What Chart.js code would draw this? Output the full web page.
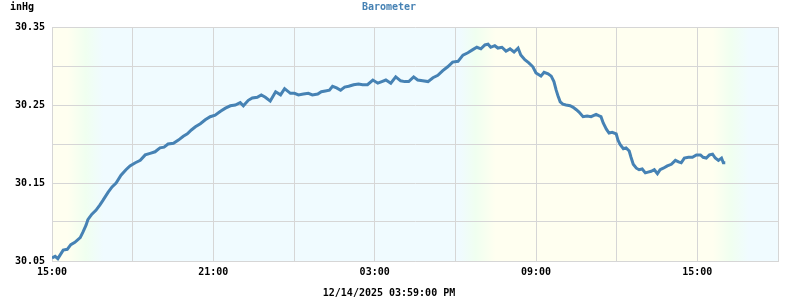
<!DOCTYPE html>
<html>
<head>
<meta charset="utf-8">
<script src="https://cdn.jsdelivr.net/npm/chart.js@4"></script>
<style>
  body { margin: 0; background: #fff; }
  canvas { display: block; }
</style>
</head>
<body>
<canvas id="baroChart" width="800" height="300"></canvas>
<script>
// minutes since 15:00 (12/13) and barometer reading in inHg
const minutes = [
  0, 7, 13, 25, 34, 42, 51, 63, 69, 76, 80, 89, 98, 107, 114, 125, 134, 143, 154, 165,
  174, 186, 197, 208, 219, 230, 241, 250, 259, 271, 282, 293, 302, 311, 320, 331, 342, 353, 364, 376,
  387, 398, 409, 420, 427, 438, 447, 458, 467, 476, 487, 499, 510, 519, 532, 541, 550, 561, 572, 581,
  593, 601, 610, 619, 626, 635, 644, 653, 662, 673, 684, 693, 704, 716, 727, 736, 745, 756, 767, 778,
  787, 796, 807, 816, 827, 839, 850, 861, 872, 883, 894, 906, 917, 928, 939, 948, 957, 966, 973, 979,
  988, 995, 1004, 1013, 1022, 1031, 1040, 1046, 1055, 1064, 1073, 1080, 1091, 1098, 1107, 1114, 1120, 1125, 1129, 1134,
  1140, 1147, 1156, 1163, 1170, 1176, 1185, 1194, 1203, 1214, 1221, 1225, 1230, 1237, 1243, 1250, 1259, 1263, 1268, 1275,
  1281, 1288, 1292, 1297, 1304, 1310, 1317, 1324, 1330, 1337, 1344, 1351, 1357, 1364, 1373, 1382, 1391, 1398, 1404, 1411,
  1420, 1429, 1438, 1447, 1453, 1460, 1467, 1474, 1480, 1487, 1494, 1498, 1499
];
const pressure = [
  30.054, 30.056, 30.053, 30.064, 30.065, 30.071, 30.074, 30.080, 30.087, 30.096, 30.103, 30.110, 30.115, 30.122, 30.128, 30.138, 30.145, 30.150, 30.160, 30.167,
  30.172, 30.176, 30.179, 30.186, 30.188, 30.190, 30.195, 30.196, 30.200, 30.201, 30.205, 30.210, 30.213, 30.218, 30.222, 30.226, 30.231, 30.235, 30.237, 30.242,
  30.246, 30.249, 30.250, 30.253, 30.249, 30.256, 30.259, 30.260, 30.263, 30.260, 30.255, 30.267, 30.263, 30.271, 30.265, 30.265, 30.263, 30.264, 30.265, 30.263,
  30.264, 30.267, 30.268, 30.269, 30.274, 30.272, 30.269, 30.273, 30.274, 30.276, 30.277, 30.276, 30.276, 30.282, 30.278, 30.280, 30.282, 30.278, 30.286, 30.281,
  30.280, 30.280, 30.286, 30.282, 30.281, 30.280, 30.285, 30.288, 30.294, 30.299, 30.305, 30.306, 30.314, 30.317, 30.321, 30.324, 30.322, 30.327, 30.328, 30.324,
  30.326, 30.323, 30.324, 30.319, 30.322, 30.318, 30.323, 30.314, 30.308, 30.304, 30.299, 30.291, 30.287, 30.292, 30.290, 30.287, 30.280, 30.269, 30.262, 30.254,
  30.251, 30.250, 30.249, 30.247, 30.244, 30.241, 30.235, 30.236, 30.235, 30.238, 30.236, 30.235, 30.227, 30.219, 30.214, 30.215, 30.213, 30.205, 30.199, 30.194,
  30.195, 30.191, 30.183, 30.174, 30.169, 30.167, 30.168, 30.163, 30.164, 30.165, 30.167, 30.162, 30.167, 30.169, 30.172, 30.174, 30.179, 30.177, 30.176, 30.182,
  30.183, 30.183, 30.186, 30.186, 30.183, 30.182, 30.186, 30.187, 30.182, 30.179, 30.182, 30.176, 30.178
];
const yTicks = [30.05, 30.10, 30.15, 30.20, 30.25, 30.30, 30.35];
const startHour = 15;
const stampText = "12/14/2025 03:59:00 PM";

// day / night shading: [minute, colour]
const shadeStops = [
  [0, "#fffff0"], [35, "#fffff0"], [75, "#f0fff0"], [115, "#f0fbff"],
  [910, "#f0fbff"], [945, "#f0fff0"], [990, "#fffff0"],
  [1475, "#fffff0"], [1515, "#f0fff0"], [1555, "#f0fbff"], [1620, "#f0fbff"]
];

const monoFont = "'DejaVu Sans Mono', 'Liberation Mono', monospace";

const shadePlugin = {
  id: "shade",
  beforeDraw(chart) {
    const { ctx, chartArea, scales } = chart;
    const x0 = chartArea.left, x1 = chartArea.right;
    const grad = ctx.createLinearGradient(x0, 0, x1, 0);
    shadeStops.forEach(([m, c]) => {
      const p = (scales.x.getPixelForValue(m) - x0) / (x1 - x0);
      grad.addColorStop(Math.min(1, Math.max(0, p)), c);
    });
    ctx.save();
    ctx.fillStyle = grad;
    ctx.fillRect(x0, chartArea.top, x1 - x0, chartArea.bottom - chartArea.top);
    ctx.restore();
  }
};

const unitPlugin = {
  id: "unit",
  afterDraw(chart) {
    const ctx = chart.ctx;
    ctx.save();
    ctx.font = "bold 10px " + monoFont;
    ctx.fillStyle = "#000";
    ctx.textBaseline = "middle";
    ctx.textAlign = "left";
    ctx.fillText("inHg", 10, 7);
    ctx.restore();
  }
};

new Chart(document.getElementById("baroChart"), {
  type: "line",
  data: {
    datasets: [{
      label: "Barometer",
      data: minutes.map((m, i) => ({ x: m, y: pressure[i] })),
      borderColor: "#4682b4",
      borderWidth: 3,
      pointRadius: 0,
      tension: 0,
      fill: false
    }]
  },
  options: {
    responsive: false,
    animation: false,
    layout: { padding: { left: 0, right: 22, top: 0, bottom: 0 } },
    plugins: {
      legend: { display: false },
      tooltip: { enabled: false },
      title: {
        display: true,
        text: "Barometer",
        color: "#4682b4",
        font: { family: monoFont, size: 10, weight: "bold" },
        padding: { top: 1, bottom: 14 }
      },
      subtitle: {
        display: true,
        position: "bottom",
        text: stampText,
        color: "#000",
        font: { family: monoFont, size: 10, weight: "bold" },
        padding: { top: 0, bottom: 1 }
      }
    },
    scales: {
      x: {
        type: "linear",
        min: 0,
        max: 1620,
        afterFit(scale) { scale.height = 26; },
        ticks: {
          stepSize: 180,
          autoSkip: false,
          maxRotation: 0,
          padding: 5,
          color: "#000",
          font: { family: monoFont, size: 10, weight: "bold" },
          callback(v) {
            if (v % 360 !== 0) return "";
            const h = (startHour + v / 60) % 24;
            return String(h).padStart(2, "0") + ":00";
          }
        },
        grid: { color: "#d6d6d6", lineWidth: 1, drawTicks: false },
        border: { color: "#d6d6d6" }
      },
      y: {
        min: 30.05,
        max: 30.35,
        afterFit(scale) { scale.width = 52; },
        afterBuildTicks(scale) { scale.ticks = yTicks.map(v => ({ value: v })); },
        ticks: {
          padding: 7,
          color: "#000",
          font: { family: monoFont, size: 10, weight: "bold" },
          callback(v) {
            return Math.round(v * 100) % 10 === 5 ? v.toFixed(2) : "";
          }
        },
        grid: { color: "#d6d6d6", lineWidth: 1, drawTicks: false },
        border: { color: "#d6d6d6" }
      }
    }
  },
  plugins: [shadePlugin, unitPlugin]
});
</script>
</body>
</html>
